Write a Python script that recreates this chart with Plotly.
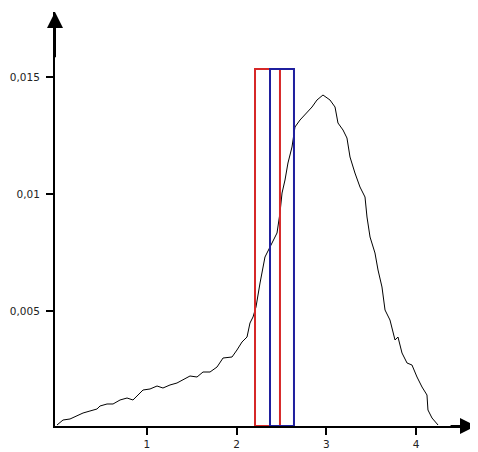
import plotly.graph_objects as go

# Curve
curve_x = [0.000, 0.067, 0.145, 0.223, 0.290, 0.367, 0.445, 0.479, 0.557, 0.624,
           0.702, 0.780, 0.846, 0.902, 0.958, 1.036, 1.114, 1.180, 1.258, 1.336,
           1.403, 1.481, 1.559, 1.626, 1.704, 1.782, 1.849, 1.949, 2.004, 2.060,
           2.116, 2.149, 2.183, 2.216, 2.261, 2.316, 2.372, 2.450, 2.483, 2.506,
           2.539, 2.572, 2.617, 2.650, 2.706, 2.784, 2.840, 2.895, 2.962, 3.040,
           3.096, 3.129, 3.185, 3.229, 3.263, 3.318, 3.374, 3.430, 3.452, 3.486,
           3.541, 3.575, 3.619, 3.653, 3.708, 3.764, 3.797, 3.842, 3.898, 3.953,
           4.009, 4.065, 4.120, 4.131, 4.176, 4.243]
curve_y = [0.000128, 0.000342, 0.000385, 0.000513, 0.000641, 0.000726, 0.000812, 0.000940, 0.001026, 0.001026,
           0.001197, 0.001282, 0.001197, 0.001410, 0.001624, 0.001667, 0.001795, 0.001709, 0.001838, 0.001923,
           0.002051, 0.002222, 0.002179, 0.002393, 0.002393, 0.002607, 0.002991, 0.003034, 0.003333, 0.003675,
           0.003889, 0.004487, 0.004744, 0.005171, 0.006197, 0.007308, 0.007735, 0.008333, 0.009188, 0.010043,
           0.010598, 0.011325, 0.012009, 0.012863, 0.013162, 0.013462, 0.013718, 0.014017, 0.014231, 0.014017,
           0.013718, 0.013034, 0.012735, 0.012393, 0.011581, 0.010897, 0.010299, 0.009872, 0.009017, 0.008162,
           0.007479, 0.006752, 0.006026, 0.005043, 0.004615, 0.003761, 0.003889, 0.003205, 0.002778, 0.002692,
           0.002179, 0.001752, 0.001410, 0.000769, 0.000427, 0.000128]

x_ticks = [1, 2, 3, 4]
x_tick_labels = ["1", "2", "3", "4"]
y_ticks = [0.005, 0.01, 0.015]
y_tick_labels = ["0,005", "0,01", "0,015"]

red_window = [2.205, 2.483]
blue_window = [2.372, 2.639]
window_top = 0.015342

X_RANGE = [-0.0223, 4.666]
Y_RANGE = [0.0000855, 0.017778]

fig = go.Figure()
fig.add_trace(go.Scatter(x=curve_x, y=curve_y, mode="lines",
                         line=dict(color="black", width=1), hoverinfo="skip"))

fig.add_shape(type="rect", xref="x", yref="y", x0=red_window[0], x1=red_window[1],
              y0=Y_RANGE[0], y1=window_top, line=dict(color="#d62828", width=2))
fig.add_shape(type="rect", xref="x", yref="y", x0=blue_window[0], x1=blue_window[1],
              y0=Y_RANGE[0], y1=window_top, line=dict(color="#1f1f9e", width=2))

# axis arrows
fig.add_annotation(x=X_RANGE[1], y=Y_RANGE[0], ax=X_RANGE[1] - 0.3, ay=Y_RANGE[0],
                   xref="x", yref="y", axref="x", ayref="y", text="", showarrow=True,
                   arrowhead=2, arrowsize=1.6, arrowwidth=2, arrowcolor="black")
fig.add_annotation(x=X_RANGE[0], y=Y_RANGE[1], ax=X_RANGE[0], ay=Y_RANGE[1] - 0.002,
                   xref="x", yref="y", axref="x", ayref="y", text="", showarrow=True,
                   arrowhead=2, arrowsize=1.6, arrowwidth=2, arrowcolor="black")

axis_font = dict(family="DejaVu Sans", size=10.5, color="#222222")
fig.update_xaxes(range=X_RANGE, showgrid=False, zeroline=False, showline=True,
                 linecolor="black", linewidth=2, ticks="outside", ticklen=7,
                 tickwidth=2, tickcolor="black", tickvals=x_ticks,
                 ticktext=x_tick_labels, tickfont=axis_font, automargin=False)
fig.update_yaxes(range=Y_RANGE, showgrid=False, zeroline=False, showline=True,
                 linecolor="black", linewidth=2, ticks="outside", ticklen=7,
                 tickwidth=2, tickcolor="black", tickvals=y_ticks,
                 ticktext=y_tick_labels, tickfont=axis_font, automargin=False,
                 ticklabelstandoff=4)

# page body has an 8px margin, so the figure is sized to fill the remaining window
fig.update_layout(width=470, height=444, margin=dict(l=47, r=2, t=4, b=26),
                  plot_bgcolor="white", paper_bgcolor="white", showlegend=False)

fig.write_html("out.html")
